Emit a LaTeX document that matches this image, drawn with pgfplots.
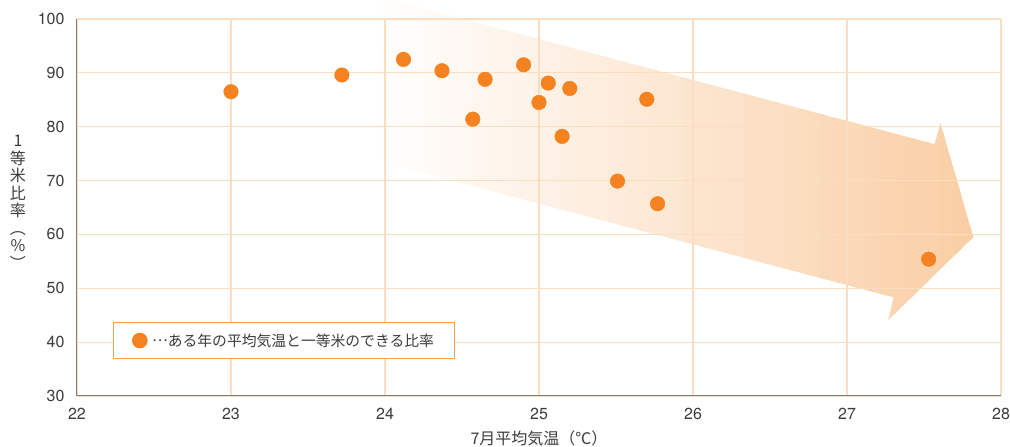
\documentclass[border=0pt]{standalone}
\usepackage{pgfplots}
\pgfplotsset{compat=1.18}
\usepackage{fontspec}
\setmainfont{TeX Gyre Heros}
\newfontfamily\jp{Noto Sans CJK JP}
\newfontfamily\jpfw[RawFeature=+fwid]{Noto Sans CJK JP}
\definecolor{dotc}{RGB}{245,130,32}
\definecolor{gridc}{RGB}{251,222,194}
\definecolor{spinec}{RGB}{125,125,125}
\definecolor{textc}{RGB}{60,60,60}
\definecolor{legc}{RGB}{242,160,90}
\definecolor{arrowc}{RGB}{250,206,164}
\begin{document}
\begin{tikzpicture}
\begin{axis}[
  at={(0,0)}, anchor=south west,
  scale only axis, width=924pt, height=377pt,
  xmin=22, xmax=28, ymin=30, ymax=100,
  xtick={22,23,24,25,26,27,28}, ytick={30,40,50,60,70,80,90,100},
  grid=major, major grid style={draw=gridc, line width=1.2pt},
  axis x line*=bottom, axis y line*=left,
  axis line style={draw=spinec, line width=1pt},
  major tick length=0pt,
  tick label style={font=\fontsize{16}{19}\selectfont, text=textc},
  xticklabel style={yshift=-9pt},
  yticklabel style={xshift=-9pt},
  /pgf/number format/assume math mode=true,
  xlabel={\jp 7月平均気温（℃）},
  xlabel style={font=\fontsize{16}{19}\selectfont, text=textc, yshift=-4pt},
  clip=false,
  set layers,
  legend style={at={(rel axis cs:0.039,0.098)}, anchor=south west,
    draw=legc, line width=1pt, fill=white,
    inner xsep=19pt, inner ysep=9pt,
    font=\jp\fontsize{14.8}{17}\selectfont, text=textc},
]
\begin{pgfonlayer}{axis background}
\begin{scope}
\clip (axis cs:23.9,104.6) -- (axis cs:27.568,76.77) -- (axis cs:27.607,80.62)
  -- (axis cs:27.820,59.50) -- (axis cs:27.268,44.10) -- (axis cs:27.302,48.32)
  -- (axis cs:23.9,74.04) -- cycle;
\pgfplotsinvokeforeach{0,2.5,...,100}{
  \fill[arrowc!#1!white] (axis cs:{23.9+#1*0.0392-0.02},40) rectangle (axis cs:{23.9+#1*0.0392+0.12},110);
}
\end{scope}
\end{pgfonlayer}
\addplot[only marks, mark=*, mark size=7.3pt, color=dotc, mark options={draw=dotc, fill=dotc}]
  coordinates {
  (23.00,86.5) (23.72,89.6) (24.12,92.5) (24.37,90.4) (24.65,88.8)
  (24.57,81.4) (24.90,91.5) (25.06,88.1) (25.00,84.5) (25.20,87.1)
  (25.15,78.2) (25.70,85.1) (25.51,69.9) (25.77,65.7) (27.53,55.4)
  };
\addlegendentry{\hspace{3pt}\raisebox{0.3em}{\jpfw …}ある年の平均気温と一等米のできる比率}
\node[font=\jp\fontsize{16}{17.5}\selectfont, align=center, text=textc,
  xshift=-59pt, yshift=5pt] at (rel axis cs:0,0.5)
  {1\\等\\米\\比\\率\\︵\\\%\\︶};
\end{axis}
\pgfresetboundingbox
\useasboundingbox (-77pt,-51pt) rectangle (933pt,396pt);
\end{tikzpicture}
\end{document}
